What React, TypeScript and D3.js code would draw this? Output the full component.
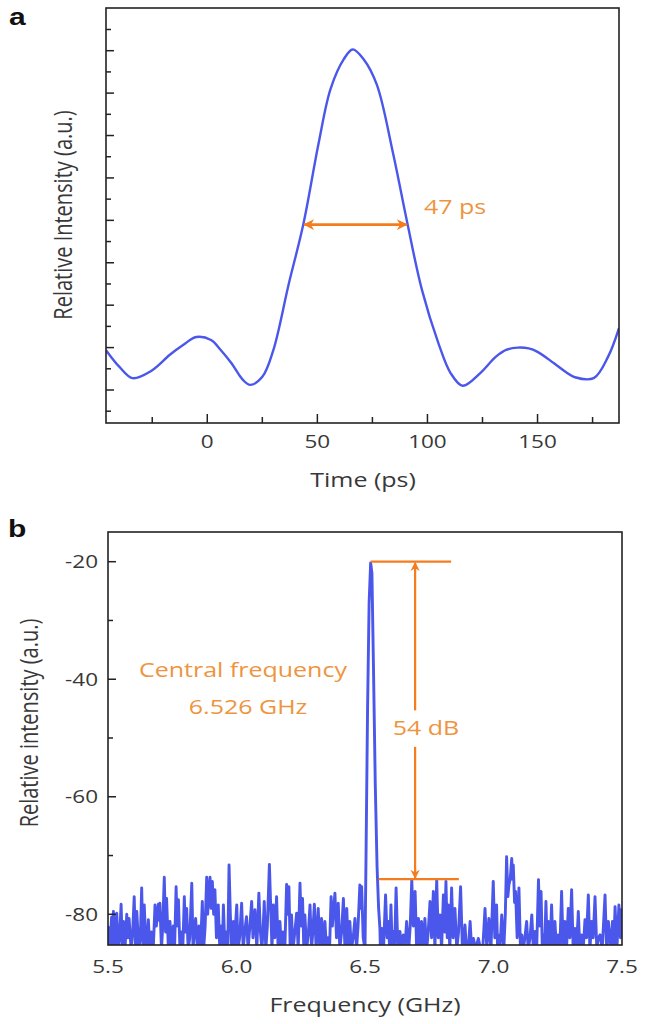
import React from "react";
import * as d3 from "d3";

// ---------- Panel a data ----------
const timePs = [-46, -40, -34, -25.5, -17, -11, -5, 1.7, 6, 11, 16, 19.5, 25, 30, 37, 43.6, 50.5, 56, 62, 66, 71, 77, 84.3, 91, 97.5, 105, 110.5, 116, 124, 131, 136, 141, 146, 150, 157.5, 163, 167, 175.5, 182, 187];
const pulse = [0.094, 0.055, 0.028, 0.045, 0.083, 0.106, 0.125, 0.118, 0.095, 0.063, 0.025, 0.012, 0.031, 0.094, 0.25, 0.39, 0.58, 0.71, 0.78, 0.803, 0.78, 0.72, 0.56, 0.39, 0.236, 0.11, 0.04, 0.01, 0.04, 0.078, 0.095, 0.1, 0.098, 0.09, 0.063, 0.042, 0.03, 0.028, 0.078, 0.146];
const timeTicks = [0, 50, 100, 150];
const timeMinor = [-25, 25, 75, 125, 175];
const intensityMajor = [0, 0.1, 0.2, 0.3, 0.4, 0.5, 0.6, 0.7, 0.8];
const intensityMinor = [-0.05, 0.05, 0.15, 0.25, 0.35, 0.45, 0.55, 0.65, 0.75, 0.85];
const fwhmStart = 43.6;
const fwhmEnd = 91;
const fwhmLevel = 0.39;

// ---------- Panel b data ----------
const freqTicks = [5.5, 6.0, 6.5, 7.0, 7.5];
const dbTicks = [-20, -40, -60, -80];
const dbMinor = [-30, -50, -70];
const peakDb = -20;
const floorDb = -74;
const spectrum: [number, number][] = [
  [5.500,-82],[5.507,-86],[5.514,-80.5],[5.517,-85],[5.521,-79.5],[5.527,-86],[5.534,-79.8],[5.540,-86],[5.545,-84],[5.551,-78.3],
  [5.556,-86],[5.560,-81.2],[5.566,-86],[5.573,-80.0],[5.577,-84],[5.582,-80.7],[5.590,-86],[5.596,-83],[5.602,-77.0],[5.607,-86],
  [5.612,-79.5],[5.620,-86],[5.626,-84],[5.631,-75.5],[5.636,-85],[5.641,-78.4],[5.648,-86],[5.653,-84],[5.657,-80.9],[5.663,-86],
  [5.670,-83],[5.676,-86],[5.683,-78.4],[5.688,-82],[5.696,-78.3],[5.699,-81],[5.702,-78.1],[5.708,-86],[5.713,-82],[5.719,-73.7],
  [5.724,-83],[5.728,-77.3],[5.735,-86],[5.741,-81.2],[5.748,-86],[5.754,-82],[5.759,-86],[5.765,-75.3],[5.769,-82],[5.774,-77.5],
  [5.780,-86],[5.786,-83],[5.791,-86],[5.797,-77.0],[5.801,-83],[5.806,-79.0],[5.812,-86],[5.818,-84],[5.826,-74.7],[5.831,-86],
  [5.836,-83],[5.841,-80.7],[5.848,-86],[5.854,-82],[5.860,-86],[5.867,-77.8],[5.872,-86],[5.878,-82],[5.884,-73.7],[5.888,-80],
  [5.892,-76],[5.897,-73.7],[5.901,-79],[5.906,-74.4],[5.911,-80],[5.916,-75.8],[5.922,-84],[5.929,-78.4],[5.935,-86],[5.941,-82],
  [5.945,-86],[5.949,-78.4],[5.955,-86],[5.960,-83],[5.966,-86],[5.971,-71.6],[5.976,-80],[5.981,-86],[5.988,-81.2],[5.993,-86],
  [5.996,-82],[6.001,-78.4],[6.006,-86],[6.012,-84],[6.020,-78.1],[6.026,-86],[6.032,-83],[6.039,-80.4],[6.045,-86],[6.052,-82],
  [6.059,-77.8],[6.064,-84],[6.072,-79.2],[6.079,-86],[6.087,-76.4],[6.093,-83],[6.099,-86],[6.104,-82],[6.108,-77.8],[6.114,-86],
  [6.120,-82],[6.128,-71.5],[6.134,-80],[6.138,-86],[6.143,-78.4],[6.149,-84],[6.156,-77.0],[6.162,-86],[6.169,-81.2],[6.175,-86],
  [6.181,-83],[6.188,-86],[6.195,-74.9],[6.199,-80],[6.204,-75.3],[6.209,-86],[6.214,-80.1],[6.220,-86],[6.227,-83],[6.234,-79.8],
  [6.240,-86],[6.247,-74.7],[6.252,-82],[6.257,-77.3],[6.262,-86],[6.266,-80.1],[6.273,-86],[6.280,-83],[6.286,-78.4],[6.292,-86],
  [6.297,-83],[6.303,-78.3],[6.310,-86],[6.318,-79.0],[6.324,-86],[6.331,-80.7],[6.337,-86],[6.344,-81.2],[6.350,-86],[6.356,-84],
  [6.362,-86],[6.368,-77.0],[6.373,-82],[6.378,-79],[6.383,-76.4],[6.389,-84],[6.396,-78.1],[6.402,-86],[6.409,-83],[6.416,-77.3],
  [6.422,-86],[6.429,-79.0],[6.435,-86],[6.441,-81.2],[6.447,-86],[6.454,-84],[6.461,-80.7],[6.467,-86],[6.473,-82],[6.480,-75.0],
  [6.484,-79],[6.487,-75.3],[6.493,-84],
  [6.500,-86],[6.504,-70],[6.510,-45],[6.516,-27],[6.522,-20.2],[6.527,-22],[6.533,-38],[6.540,-58],[6.547,-72],[6.553,-79],
  [6.558,-82.4],[6.560,-86],[6.565,-82.4],[6.572,-86],[6.580,-76.7],[6.586,-84],[6.591,-81.2],[6.596,-86],[6.601,-78.4],[6.606,-86],
  [6.610,-82.9],[6.615,-86],[6.621,-75.5],[6.628,-86],[6.636,-82.9],[6.642,-86],[6.649,-83.5],[6.655,-86],[6.662,-81.2],[6.670,-86],
  [6.676,-82],[6.682,-74.1],[6.688,-82],[6.695,-76.1],[6.701,-86],[6.708,-80.7],[6.714,-86],[6.720,-81.2],[6.726,-86],[6.733,-80.7],
  [6.740,-86],[6.746,-83],[6.753,-77.8],[6.759,-84],[6.766,-76.1],[6.772,-86],[6.779,-74.1],[6.785,-84],[6.792,-80.1],[6.798,-86],
  [6.805,-76.7],[6.810,-83],[6.815,-74.4],[6.820,-84],[6.824,-78.4],[6.830,-86],[6.837,-75.5],[6.843,-84],[6.850,-79.0],[6.857,-86],
  [6.864,-83],[6.872,-75.3],[6.879,-86],[6.885,-84],[6.889,-81.8],[6.895,-86],[6.902,-86],[6.909,-81.2],[6.915,-86],[6.922,-84.1],
  [6.930,-86],[6.941,-84.1],[6.950,-86],[6.958,-86],[6.967,-79.0],[6.974,-86],[6.982,-80.7],[6.990,-86],[6.999,-74.4],[7.005,-84],
  [7.012,-78.4],[7.016,-86],[7.019,-83.5],[7.025,-86],[7.032,-80.1],[7.040,-86],[7.046,-80],[7.051,-70.2],[7.056,-77],[7.060,-75.0],
  [7.065,-74],[7.071,-70.5],[7.074,-74],[7.077,-71.6],[7.082,-78],[7.086,-76.1],[7.092,-84],[7.099,-75.5],[7.105,-86],[7.110,-83.5],
  [7.116,-86],[7.122,-84],[7.129,-81.2],[7.135,-86],[7.142,-84],[7.149,-80.1],[7.155,-86],[7.162,-82.9],[7.168,-86],[7.175,-74.1],
  [7.180,-82],[7.185,-76.1],[7.190,-86],[7.194,-83.5],[7.199,-86],[7.204,-77.8],[7.209,-86],[7.213,-81.2],[7.220,-86],[7.226,-78.4],
  [7.232,-86],[7.239,-81.2],[7.245,-86],[7.252,-83.5],[7.258,-86],[7.265,-76.1],[7.271,-86],[7.278,-81.2],[7.284,-86],[7.291,-79.0],
  [7.297,-84],[7.304,-75.8],[7.310,-86],[7.317,-82.4],[7.323,-86],[7.330,-79.5],[7.336,-86],[7.343,-83.5],[7.349,-86],[7.356,-80.9],
  [7.362,-84],[7.369,-76.7],[7.375,-86],[7.382,-81.2],[7.388,-84],[7.395,-77.0],[7.402,-86],[7.408,-84],[7.415,-83.5],[7.423,-86],
  [7.434,-76.7],[7.440,-86],[7.447,-81.2],[7.455,-86],[7.463,-81.2],[7.468,-86],[7.473,-78.7],[7.480,-86],[7.488,-78.4],[7.494,-84],
  [7.500,-79]
];

const BLUE = "#4a57ea";
const ORANGE = "#f47c1e";
const ORANGE_TEXT = "#ee9440";
const TEXT = "#383838";
const FONT = "'Open Sans', 'Noto Sans', sans-serif";
const STRETCH = 1.25;

type STProps = {
  x: number;
  y: number;
  size: number;
  fill?: string;
  anchor?: "start" | "middle" | "end";
  rotate?: boolean;
  weight?: number;
  family?: string;
  children: React.ReactNode;
};

function SText({ x, y, size, fill = TEXT, anchor = "start", rotate = false, weight = 400, family, children }: STProps) {
  return (
    <text
      transform={`translate(${x},${y}) scale(${STRETCH},1)${rotate ? " rotate(-90)" : ""}`}
      fontSize={size}
      fill={fill}
      textAnchor={anchor}
      fontWeight={weight}
      fontFamily={family}
    >
      {children}
    </text>
  );
}

export default function App() {
  // Panel a
  const axL = 106, axR = 619, ayT = 8, ayB = 423;
  const xa = d3.scaleLinear().domain([-46, 187]).range([axL, axR]);
  const ya = d3.scaleLinear().domain([0, 0.8]).range([390, 50.7]);
  const lineA = d3
    .line<number>()
    .x((_, i) => xa(timePs[i]))
    .y((d) => ya(d))
    .curve(d3.curveCatmullRom.alpha(0.5));

  // Panel b
  const bxL = 108, bxR = 622, byT = 532, byB = 945;
  const xb = d3.scaleLinear().domain([5.5, 7.5]).range([bxL, bxR]);
  const yb = d3.scaleLinear().domain([-20, -80]).range([561.7, 914.3]);
  const lineB = d3
    .line<[number, number]>()
    .x((d) => xb(d[0]))
    .y((d) => yb(d[1]));

  const arrowX = xb(6.695);

  return (
    <svg
      width={647}
      height={1024}
      style={{ position: "absolute", left: 0, top: 0, background: "#fff" }}
      fontFamily={FONT}
    >
      <defs>
        <clipPath id="clipA">
          <rect x={axL} y={ayT} width={axR - axL} height={ayB - ayT} />
        </clipPath>
        <clipPath id="clipB">
          <rect x={bxL} y={byT} width={bxR - bxL} height={byB - byT} />
        </clipPath>
        <marker
          id="arr"
          viewBox="0 0 10 10"
          refX={9}
          refY={5}
          markerWidth={5}
          markerHeight={4.2}
          orient="auto-start-reverse"
          markerUnits="strokeWidth"
        >
          <path d="M0,0 L10,5 L0,10 L3,5 Z" fill={ORANGE} />
        </marker>
      </defs>

      {/* ---------------- Panel a ---------------- */}
      <SText x={9} y={25} size={24} weight={700} fill="#111" family="'Liberation Sans', Arial, sans-serif">
        a
      </SText>
      <path d={lineA(pulse) || ""} fill="none" stroke={BLUE} strokeWidth={2.4} clipPath="url(#clipA)" />
      <rect x={axL} y={ayT} width={axR - axL} height={ayB - ayT} fill="none" stroke="#222" strokeWidth={1.6} />
      {intensityMajor.map((v) => (
        <line key={"ym" + v} x1={axL} x2={axL + 8} y1={ya(v)} y2={ya(v)} stroke="#222" strokeWidth={1.5} />
      ))}
      {intensityMinor.map((v) => (
        <line key={"yn" + v} x1={axL} x2={axL + 5} y1={ya(v)} y2={ya(v)} stroke="#222" strokeWidth={1.5} />
      ))}
      {timeTicks.map((t) => (
        <g key={"xt" + t}>
          <line x1={xa(t)} x2={xa(t)} y1={ayB} y2={ayB - 9} stroke="#222" strokeWidth={1.5} />
          <SText x={xa(t)} y={448} size={18} anchor="middle">
            {t}
          </SText>
        </g>
      ))}
      {timeMinor.map((t) => (
        <line key={"xn" + t} x1={xa(t)} x2={xa(t)} y1={ayB} y2={ayB - 6} stroke="#222" strokeWidth={1.5} />
      ))}
      <SText x={363} y={487} size={20} anchor="middle">
        Time (ps)
      </SText>
      <SText x={72} y={215} size={20} anchor="middle" rotate>
        Relative Intensity (a.u.)
      </SText>
      <line
        x1={xa(fwhmStart) + 1}
        x2={xa(fwhmEnd) - 1}
        y1={ya(fwhmLevel)}
        y2={ya(fwhmLevel)}
        stroke={ORANGE}
        strokeWidth={2.6}
        markerStart="url(#arr)"
        markerEnd="url(#arr)"
      />
      <SText x={424} y={214} size={20} fill={ORANGE_TEXT}>
        47 ps
      </SText>

      {/* ---------------- Panel b ---------------- */}
      <SText x={8} y={537} size={24} weight={700} fill="#111" family="'Liberation Sans', Arial, sans-serif">
        b
      </SText>
      <path d={lineB(spectrum) || ""} fill="none" stroke={BLUE} strokeWidth={2.9} strokeLinejoin="round" clipPath="url(#clipB)" />
      <rect x={bxL} y={byT} width={bxR - bxL} height={byB - byT} fill="none" stroke="#222" strokeWidth={1.6} />
      {dbTicks.map((v) => (
        <g key={"yb" + v}>
          <line x1={bxL} x2={bxL + 8} y1={yb(v)} y2={yb(v)} stroke="#222" strokeWidth={1.5} />
          <SText x={bxL - 10} y={yb(v) + 6.5} size={18} anchor="end">
            {v}
          </SText>
        </g>
      ))}
      {dbMinor.map((v) => (
        <line key={"ybn" + v} x1={bxL} x2={bxL + 5} y1={yb(v)} y2={yb(v)} stroke="#222" strokeWidth={1.5} />
      ))}
      {freqTicks.map((f) => (
        <SText key={"xf" + f} x={xb(f)} y={973} size={18} anchor="middle">
          {f.toFixed(1)}
        </SText>
      ))}
      <SText x={365} y={1012} size={20} anchor="middle">
        Frequency (GHz)
      </SText>
      <SText x={38} y={723} size={20} anchor="middle" rotate>
        Relative intensity (a.u.)
      </SText>

      {/* annotations */}
      <line x1={xb(6.522)} x2={xb(6.835)} y1={yb(peakDb)} y2={yb(peakDb)} stroke={ORANGE} strokeWidth={2.2} />
      <line x1={xb(6.553)} x2={xb(6.865)} y1={yb(floorDb)} y2={yb(floorDb)} stroke={ORANGE} strokeWidth={2.2} />
      <line
        x1={arrowX}
        x2={arrowX}
        y1={yb(peakDb) + 1}
        y2={yb(floorDb) - 1}
        stroke={ORANGE}
        strokeWidth={2.2}
        markerStart="url(#arr)"
        markerEnd="url(#arr)"
      />
      <rect x={xb(6.6)} y={yb(-45.3)} width={xb(6.87) - xb(6.6)} height={yb(-51.5) - yb(-45.3)} fill="#fff" />
      <SText x={xb(6.737)} y={yb(-48.3) + 7} size={20} fill={ORANGE_TEXT} anchor="middle">
        54 dB
      </SText>
      <SText x={xb(6.025)} y={yb(-38.4) + 7} size={20} fill={ORANGE_TEXT} anchor="middle">
        Central frequency
      </SText>
      <SText x={xb(6.045)} y={yb(-44.7) + 7} size={20} fill={ORANGE_TEXT} anchor="middle">
        6.526 GHz
      </SText>
    </svg>
  );
}
